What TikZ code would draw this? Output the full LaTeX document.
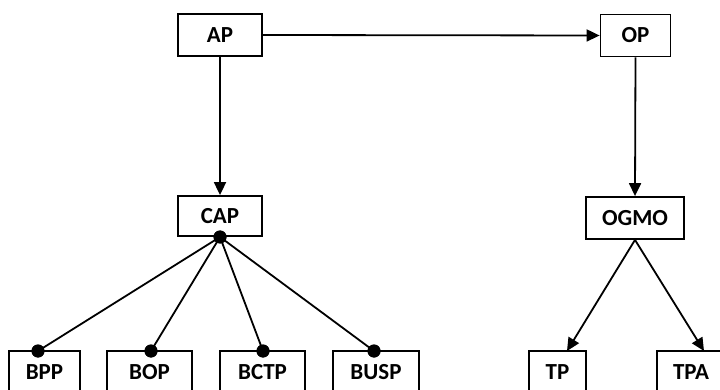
\documentclass[tikz,border=0pt]{standalone}
\usepackage{fontspec}
\setmainfont{Carlito}
\usetikzlibrary{arrows.meta}
\tikzset{
  box/.style={draw, line width=1.8pt, fill=white, minimum height=42pt, inner sep=0pt, font=\fontsize{23}{25}\selectfont\bfseries},
  conn/.style={line width=1.8pt},
  arr/.style={conn, -{Triangle[length=13pt,width=12pt]}},
  dot/.style={circle, fill=black, inner sep=0pt, minimum size=13pt}
}
\begin{document}
\begin{tikzpicture}[x=1pt,y=-1pt]
\useasboundingbox (0,0) rectangle (720,390);
\clip (0,0) rectangle (720,390);
\node[box, minimum width=84pt] (AP) at (220,35) {AP};
\node[box, minimum width=70pt] (OP) at (635.5,35.5) {OP};
\node[box, minimum width=84pt, minimum height=40pt] (CAP) at (220,216) {CAP};
\node[box, minimum width=98pt] (OGMO) at (635,218) {OGMO};
\node[box, minimum width=57pt] (TP) at (557.5,372) {TP};
\node[box, minimum width=68pt] (TPA) at (691,372) {TPA};
\node[box, minimum width=71pt] (BPP) at (44.5,372) {BPP};
\node[box, minimum width=85pt] (BOP) at (149.5,372) {BOP};
\node[box, minimum width=85pt] (BCTP) at (262.5,372) {BCTP};
\node[box, minimum width=86pt] (BUSP) at (376,372) {BUSP};
\draw[arr] (AP.east) -- (OP.west);
\draw[arr] (AP.south) -- (CAP.north);
\draw[arr] (OP.south) -- (OGMO.north);
\coordinate (tpin) at (567,351);
\coordinate (tpain) at (704,351);
\draw[arr] (OGMO.south) -- (tpin);
\draw[arr] (OGMO.south) -- (tpain);
\node[dot] (d0) at (220,237) {};
\node[dot] (d1) at (38,351) {};
\node[dot] (d2) at (151,351) {};
\node[dot] (d3) at (263,351) {};
\node[dot] (d4) at (374,351) {};
\draw[conn] (d0.center) -- (d1.center);
\draw[conn] (d0.center) -- (d2.center);
\draw[conn] (d0.center) -- (d3.center);
\draw[conn] (d0.center) -- (d4.center);
\node[dot] at (220,237) {};
\node[dot] at (38,351) {};
\node[dot] at (151,351) {};
\node[dot] at (263,351) {};
\node[dot] at (374,351) {};
\end{tikzpicture}
\end{document}
